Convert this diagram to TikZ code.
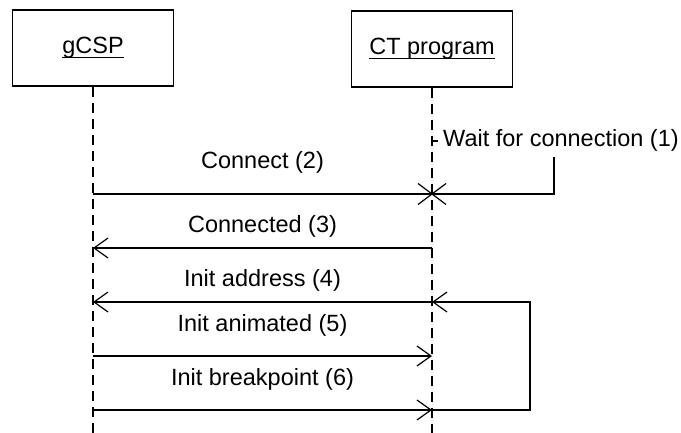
\documentclass[tikz,border=0pt]{standalone}
\usepackage{fontspec}
\setmainfont{Liberation Sans}
\usetikzlibrary{arrows.meta}

% underlined object name, as in UML sequence diagrams
\newcommand\objname[1]{\setbox0\hbox{#1}\rlap{\rule[-4pt]{\wd0}{1.1pt}}\box0}

\begin{document}
\begin{tikzpicture}[x=1pt,y=-1pt,
  every node/.style={font=\fontsize{23.5pt}{28pt}\selectfont},
  object/.style={draw,line width=1.2pt,minimum width=161pt,minimum height=76pt,inner sep=0pt},
  lifeline/.style={line width=1.1pt,dash pattern=on 10pt off 6pt},
  msg/.style={line width=1.2pt,-{Straight Barb[length=14pt,width=20pt]}},
  plain/.style={line width=1.2pt},
  msglabel/.style={anchor=base,inner sep=0pt}]
\useasboundingbox (0,0) rectangle (681,433);

% objects
\node[object] (g) at (93,48) {\objname{gCSP}};
\node[object] (c) at (432,49) {\objname{CT program}};

% lifelines
\coordinate (bot) at (0,433);
\draw[lifeline] (g.south) -- (g.south |- bot);
\draw[lifeline] (c.south) -- (c.south |- bot);

% message levels on each lifeline
\foreach \n/\y in {2/194,3/248,4/302,5/356,6/410}{
  \coordinate (g\n) at (93,\y);
  \coordinate (c\n) at (432,\y);
}
\coordinate (r4) at (530,302);
\coordinate (r6) at (530,410);
\coordinate (n1) at (554,194);

% note: wait for connection
\node[anchor=base west,inner sep=5pt] (wait) at (438,147) {Wait for connection (1)};
\draw[plain] (wait.west -| c.south) -- (wait.west);
\draw[plain] (wait.south -| n1) -- (n1) -- (c2);

% connect, ending in a cross on the server lifeline
\draw[plain] (g2) -- (c2) node[msglabel,midway,yshift=25pt] {Connect (2)};
\draw[plain] ([shift={(-14,-10.5)}]c2) -- ([shift={(14,10.5)}]c2);
\draw[plain] ([shift={(-14,10.5)}]c2) -- ([shift={(14,-10.5)}]c2);

% remaining messages
\draw[msg] (c3) -- (g3) node[msglabel,midway,yshift=15pt] {Connected (3)};
\draw[msg] (c4) -- (g4) node[msglabel,midway,yshift=15pt] {Init address (4)};
\draw[msg] (g5) -- (c5) node[msglabel,midway,yshift=25pt] {Init animated (5)};
\draw[msg] (g6) -- (c6) node[msglabel,midway,yshift=25pt] {Init breakpoint (6)};

% loop back to the init address step
\draw[msg] (c6) -- (r6) -- (r4) -- (c4);
\end{tikzpicture}
\end{document}
